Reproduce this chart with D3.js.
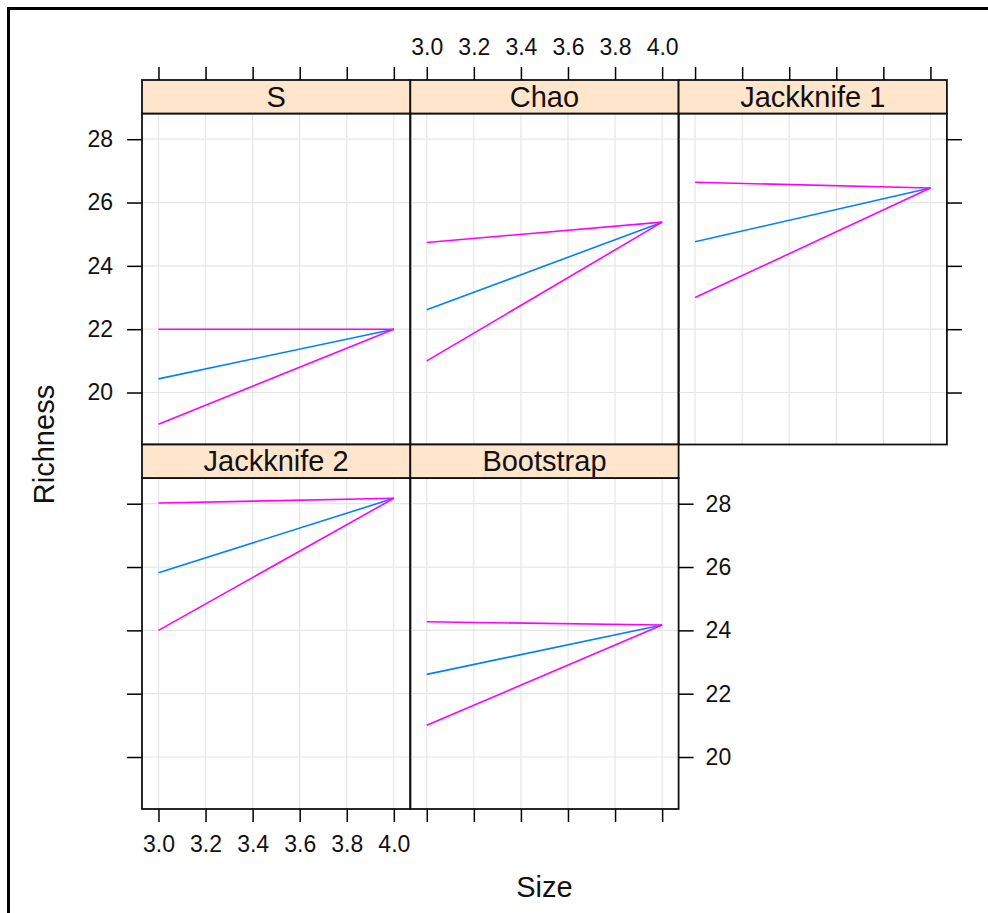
<!DOCTYPE html>
<html>
<head>
<meta charset="utf-8">
<script src="https://cdn.jsdelivr.net/npm/d3@7"></script>
<style>
  html, body { margin: 0; padding: 0; background: #fff; }
  svg { display: block; font-family: "Liberation Sans", Arial, sans-serif; }
</style>
</head>
<body>
<svg id="chart" width="988" height="913"></svg>
<script>
// values
var panelNames = ['S', 'Chao', 'Jackknife 1', 'Jackknife 2', 'Bootstrap'];
var sizes = [3, 4];
var meanRichness = [
  [20.43, 22.0],
  [22.61, 25.38],
  [24.76, 26.46],
  [25.82, 28.17],
  [22.61, 24.17]
];
var lowerRichness = [
  [19.0, 22.0],
  [21.0, 25.38],
  [23.0, 26.46],
  [24.0, 28.17],
  [21.0, 24.17]
];
var upperRichness = [
  [22.0, 22.0],
  [24.74, 25.38],
  [26.64, 26.46],
  [28.02, 28.17],
  [24.27, 24.17]
];
var xTicks = [3.0, 3.2, 3.4, 3.6, 3.8, 4.0];
var yTicks = [20, 22, 24, 26, 28];

// layout (lattice-like)
var gridLeft = 142, gridTop = 80;
var panelW = 268.3, stripH = 33.5, panelH = 331;
var rowH = stripH + panelH;
var pad = 0.07;
var blue = '#0080ff', magenta = '#ff00ff';

var svg = d3.select('#chart');

// outer frame
svg.append('rect')
  .attr('x', 8.5).attr('y', 8.5)
  .attr('width', 1100).attr('height', 1100)
  .attr('fill', 'none').attr('stroke', '#000').attr('stroke-width', 3);

var allY = d3.merge([].concat(meanRichness, lowerRichness, upperRichness));
var yExt = d3.extent(allY);
var yPad = (yExt[1] - yExt[0]) * pad;
var xExt = d3.extent(sizes);
var xPad = (xExt[1] - xExt[0]) * pad;

var x = d3.scaleLinear().domain([xExt[0] - xPad, xExt[1] + xPad]).range([0, panelW]);
var y = d3.scaleLinear().domain([yExt[0] - yPad, yExt[1] + yPad]).range([panelH, 0]);

var line = d3.line()
  .x(function (d, i) { return x(sizes[i]); })
  .y(function (d) { return y(d); });

var fmtX = d3.format('.1f');

function styleAxis(g) {
  g.select('.domain').remove();
  g.selectAll('.tick line').attr('stroke', '#000').attr('stroke-width', 1.5);
  g.selectAll('.tick text').attr('fill', '#111').attr('font-size', 23);
}

panelNames.forEach(function (name, i) {
  var col = i % 3, row = Math.floor(i / 3);
  var px = gridLeft + col * panelW;
  var py = gridTop + row * rowH + stripH;
  var g = svg.append('g').attr('transform', 'translate(' + px + ',' + py + ')');

  // grid
  g.selectAll('.vgrid').data(xTicks).enter().append('line')
    .attr('x1', x).attr('x2', x).attr('y1', 0).attr('y2', panelH)
    .attr('stroke', '#e6e6e6').attr('stroke-width', 1.2);
  g.selectAll('.hgrid').data(yTicks).enter().append('line')
    .attr('y1', y).attr('y2', y).attr('x1', 0).attr('x2', panelW)
    .attr('stroke', '#e6e6e6').attr('stroke-width', 1.2);

  // lines
  [[meanRichness[i], blue], [lowerRichness[i], magenta], [upperRichness[i], magenta]]
    .forEach(function (s) {
      g.append('path').datum(s[0])
        .attr('d', line)
        .attr('fill', 'none')
        .attr('stroke', s[1])
        .attr('stroke-width', 1.6);
    });

  // border
  g.append('rect').attr('width', panelW).attr('height', panelH)
    .attr('fill', 'none').attr('stroke', '#111').attr('stroke-width', 1.8);

  // strip
  var strip = g.append('g').attr('transform', 'translate(0,' + (-stripH) + ')');
  strip.append('rect').attr('width', panelW).attr('height', stripH)
    .attr('fill', '#ffe5cc').attr('stroke', '#111').attr('stroke-width', 1.8);
  strip.append('text')
    .attr('x', panelW / 2).attr('y', stripH / 2 + 10)
    .attr('text-anchor', 'middle')
    .attr('font-size', 29).attr('fill', '#111')
    .text(name);

  // axes
  if (row === 0) {
    g.append('g').attr('transform', 'translate(0,' + (-stripH) + ')')
      .call(d3.axisTop(x).tickValues(xTicks).tickSize(13).tickPadding(12)
        .tickFormat(col === 1 ? fmtX : ''))
      .call(styleAxis);
  }
  if (row === 1) {
    g.append('g').attr('transform', 'translate(0,' + panelH + ')')
      .call(d3.axisBottom(x).tickValues(xTicks).tickSize(13).tickPadding(14)
        .tickFormat(col === 0 ? fmtX : ''))
      .call(styleAxis);
  }
  if (col === 0) {
    g.append('g')
      .call(d3.axisLeft(y).tickValues(yTicks).tickSize(15).tickPadding(14)
        .tickFormat(row === 0 ? d3.format('d') : ''))
      .call(styleAxis);
  }
  if (col === 2 || (row === 1 && col === 1)) {
    g.append('g').attr('transform', 'translate(' + panelW + ',0)')
      .call(d3.axisRight(y).tickValues(yTicks).tickSize(15).tickPadding(12)
        .tickFormat(row === 1 ? d3.format('d') : ''))
      .call(styleAxis);
  }
});

// axis titles
svg.append('text')
  .attr('x', gridLeft + 1.5 * panelW).attr('y', 897)
  .attr('text-anchor', 'middle').attr('font-size', 29).attr('fill', '#111')
  .text('Size');
svg.append('text')
  .attr('transform', 'translate(54,' + (gridTop + rowH) + ') rotate(-90)')
  .attr('text-anchor', 'middle').attr('font-size', 29).attr('fill', '#111')
  .text('Richness');
</script>
</body>
</html>
